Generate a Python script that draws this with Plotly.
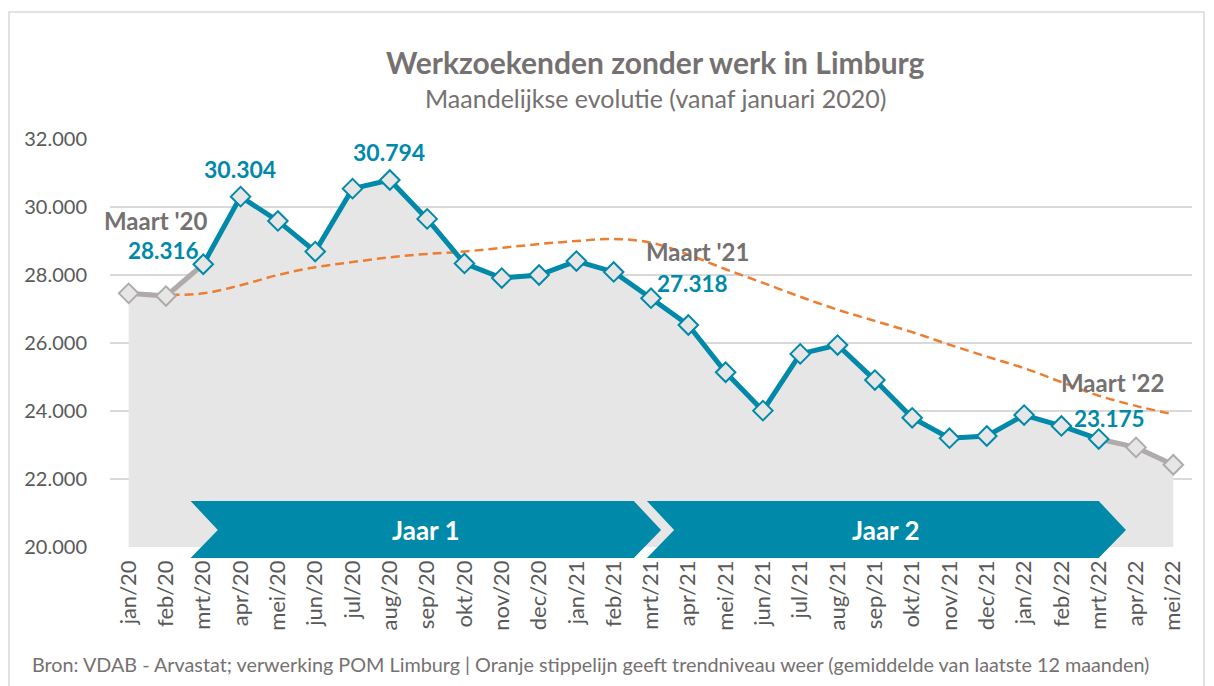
import plotly.graph_objects as go

months = ["jan/20", "feb/20", "mrt/20", "apr/20", "mei/20", "jun/20", "jul/20", "aug/20",
          "sep/20", "okt/20", "nov/20", "dec/20", "jan/21", "feb/21", "mrt/21", "apr/21",
          "mei/21", "jun/21", "jul/21", "aug/21", "sep/21", "okt/21", "nov/21", "dec/21",
          "jan/22", "feb/22", "mrt/22", "apr/22", "mei/22"]
werkzoekenden = [27460, 27380, 28316, 30304, 29590, 28690, 30540, 30794, 29650, 28340,
                 27910, 28000, 28410, 28090, 27318, 26530, 25140, 24010, 25680, 25940,
                 24910, 23800, 23200, 23265, 23880, 23560, 23175, 22930, 22420]
trend = [27500, 27420, 27460, 27700, 28000, 28230, 28380, 28520, 28620, 28690,
         28800, 28910, 29000, 29060, 28950, 28600, 28170, 27770, 27360, 26980,
         26650, 26320, 25950, 25600, 25260, 24850, 24450, 24150, 23900]
y_ticks = [20000, 22000, 24000, 26000, 28000, 30000, 32000]

highlight = {"mrt/20": ("Maart '20", 2), "mrt/21": ("Maart '21", 14), "mrt/22": ("Maart '22", 26)}
peaks = ["apr/20", "aug/20"]
# chevron extents in category-index units (left edge, right edge before the tip)
jaren = [("Jaar 1", 1.66, 13.54), ("Jaar 2", 13.89, 26.0)]

TEAL = "#0089A9"
GREY_LINE = "#AFABAB"
FILL = "#E7E6E6"
ORANGE = "#ED7D31"
TXT = "#767171"
TICK = "#595959"
FONT = "Lato"

x = list(range(len(months)))
start, end = 2, 26

fig = go.Figure()
# area
fig.add_trace(go.Scatter(x=x, y=werkzoekenden, mode="lines", line=dict(width=0),
                         fill="tozeroy", fillcolor=FILL, hoverinfo="skip", showlegend=False))
# trend
fig.add_trace(go.Scatter(x=x, y=trend, mode="lines",
                         line=dict(color=ORANGE, width=2.5, dash="9px,5px", shape="spline"),
                         showlegend=False))
# grey segments
fig.add_trace(go.Scatter(x=x[:start + 1], y=werkzoekenden[:start + 1], mode="lines",
                         line=dict(color=GREY_LINE, width=5), showlegend=False))
fig.add_trace(go.Scatter(x=x[end:], y=werkzoekenden[end:], mode="lines",
                         line=dict(color=GREY_LINE, width=5), showlegend=False))
# teal
fig.add_trace(go.Scatter(x=x[start:end + 1], y=werkzoekenden[start:end + 1], mode="lines",
                         line=dict(color=TEAL, width=5), showlegend=False))
# markers
mk_x_g = x[:start] + x[end + 1:]
mk_y_g = werkzoekenden[:start] + werkzoekenden[end + 1:]
fig.add_trace(go.Scatter(x=mk_x_g, y=mk_y_g, mode="markers",
                         marker=dict(symbol="diamond", size=15, color=FILL, line=dict(color=GREY_LINE, width=2)),
                         showlegend=False))
fig.add_trace(go.Scatter(x=x[start:end + 1], y=werkzoekenden[start:end + 1], mode="markers",
                         marker=dict(symbol="diamond", size=15, color=FILL, line=dict(color=TEAL, width=2)),
                         showlegend=False))


def fmt(v):
    return f"{v:,}".replace(",", ".")


annotations = []
# label offsets in pixels (dx name, dy name, dx value, dy value) relative to the point
label_offsets = {"mrt/20": (-48, 44, -40, 14), "mrt/21": (46, 47, 41, 15), "mrt/22": (14, 57, 11, 21)}
for m, (txt, i) in highlight.items():
    dx1, dy1, dx2, dy2 = label_offsets[m]
    annotations.append(dict(x=i, y=werkzoekenden[i], xref="x", yref="y", text=f"<b>{txt}</b>",
                            showarrow=False, xshift=dx1, yshift=dy1,
                            font=dict(family=FONT, size=24, color=TXT)))
    annotations.append(dict(x=i, y=werkzoekenden[i], xref="x", yref="y",
                            text=f"<b>{fmt(werkzoekenden[i])}</b>",
                            showarrow=False, xshift=dx2, yshift=dy2,
                            font=dict(family=FONT, size=22.5, color=TEAL)))
for m in peaks:
    i = months.index(m)
    annotations.append(dict(x=i, y=werkzoekenden[i], xref="x", yref="y",
                            text=f"<b>{fmt(werkzoekenden[i])}</b>",
                            showarrow=False, xshift=-1, yshift=28,
                            font=dict(family=FONT, size=23, color=TEAL)))

# page offset of the plot inside the browser (body margin)
OFF = 8
PLOT_L, PLOT_R, PLOT_T, PLOT_B = 110, 1192, 139, 547
PW, PH = PLOT_R - PLOT_L, PLOT_B - PLOT_T


def py(p):
    return (PLOT_B - p) / PH


def px(p):
    return (p - PLOT_L) / PW


shapes = []
top, mid, bot = py(501), py(530), py(558)
d = 0.73
for name, left, right in jaren:
    path = (f"M {left},{top} L {right},{top} L {right + d},{mid} L {right},{bot} "
            f"L {left},{bot} L {left + d},{mid} Z")
    shapes.append(dict(type="path", path=path, xref="x", yref="paper", fillcolor=TEAL,
                       line=dict(width=0), layer="above"))
    annotations.append(dict(x=(left + right + d) / 2, y=mid, xref="x", yref="paper",
                            xanchor="center", yanchor="middle", text=f"<b>{name}</b>",
                            showarrow=False, font=dict(family=FONT, size=26, color="white")))

# outer border
shapes.append(dict(type="rect", xref="paper", yref="paper", x0=px(9), x1=px(1204),
                   y0=py(700), y1=py(12), line=dict(color="#D9D9D9", width=1.5), layer="below"))

# titles and footer
annotations.append(dict(x=px(655), y=py(62), xref="paper", yref="paper", xanchor="center", yanchor="middle",
                        text="<b>Werkzoekenden zonder werk in Limburg</b>", showarrow=False,
                        font=dict(family=FONT, size=30, color=TXT)))
annotations.append(dict(x=px(655), y=py(98), xref="paper", yref="paper", xanchor="center", yanchor="middle",
                        text="Maandelijkse evolutie (vanaf januari 2020)", showarrow=False,
                        font=dict(family=FONT, size=25, color=TXT)))
annotations.append(dict(x=px(30), y=py(664), xref="paper", yref="paper", xanchor="left", yanchor="middle",
                        text="Bron: VDAB - Arvastat; verwerking POM Limburg | Oranje stippelijn geeft trendniveau weer (gemiddelde van laatste 12 maanden)",
                        showarrow=False, font=dict(family=FONT, size=19.8, color=TXT)))

W, H = 1214 - OFF, 686 - OFF
fig.update_layout(
    width=W, height=H,
    margin=dict(l=PLOT_L - OFF, r=W + OFF - PLOT_R, t=PLOT_T - OFF, b=H + OFF - PLOT_B),
    plot_bgcolor="white", paper_bgcolor="white",
    separators=",.",
    shapes=shapes, annotations=annotations,
    font=dict(family=FONT, color=TICK),
    xaxis=dict(range=[-0.5, len(months) - 0.5], tickvals=x, ticktext=months, tickangle=-90,
               showgrid=False, zeroline=False, showline=False, ticks="",
               ticklabelstandoff=8,
               tickfont=dict(family=FONT, size=22, color=TICK)),
    yaxis=dict(range=[20000, 32000], tickvals=y_ticks, tickformat=",d", showgrid=True,
               gridcolor="#D9D9D9", gridwidth=1.5, zeroline=False, showline=False, ticks="",
               ticklabelstandoff=22, tickfont=dict(family=FONT, size=20, color=TICK)),
)

fig.write_html("out.html")
